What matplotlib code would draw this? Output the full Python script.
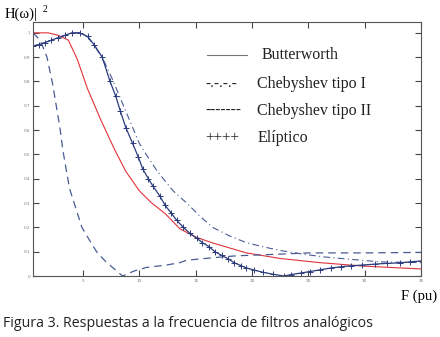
"""Magnitude response of analog low-pass filters (Butterworth, Chebyshev I/II, elliptic)."""
import matplotlib
matplotlib.use("Agg")
import matplotlib.pyplot as plt

# Butterworth
f_butter = [0.56, 1.0, 1.9, 2.8, 3.7, 4.5, 5.4, 6.5, 7.8, 8.8, 10, 11.1, 12.3, 13.6,
            15, 16.5, 19.5, 22.5, 26, 29.8, 35]
h_butter = [1.0, 1.0, 1.0, 0.99, 0.97, 0.89, 0.77, 0.65, 0.52, 0.43, 0.35, 0.30, 0.256, 0.194,
            0.16, 0.136, 0.095, 0.072, 0.055, 0.041, 0.029]

# Chebyshev tipo I
f_cheb1 = [0.56, 1.6, 2.8, 4.0, 4.7, 5.4, 6.7, 7.6, 8.5, 10.0, 10.6, 11.6, 13.0, 14.2,
           15.4, 16.5, 18.0, 19.5, 21.0, 22.5, 24.5, 26.5, 28.4, 31.4, 35]
h_cheb1 = [0.946, 0.96, 0.98, 1.0, 1.0, 0.985, 0.9, 0.81, 0.71, 0.545, 0.5, 0.43, 0.35, 0.30,
           0.245, 0.2, 0.165, 0.137, 0.12, 0.105, 0.09, 0.078, 0.07, 0.058, 0.055]

# Chebyshev tipo II
f_cheb2 = [0.56, 1.2, 1.8, 2.3, 2.95, 3.2, 3.8, 4.9, 5.6, 6.2, 7.0, 7.8, 8.5, 9.5, 10.6,
           12.4, 13.6, 14.2, 16.5, 18.6, 22.5, 25, 30, 35]
h_cheb2 = [1.0, 0.97, 0.9, 0.79, 0.61, 0.52, 0.36, 0.2, 0.145, 0.1, 0.06, 0.028, 0.0, 0.02, 0.035,
           0.045, 0.055, 0.065, 0.075, 0.083, 0.09, 0.095, 0.095, 0.097]

# Eliptico
f_ellip = [0.56, 1.1, 1.6, 2.2, 2.8, 3.4, 4.0, 4.7, 5.4, 6.0, 6.7, 7.4, 7.9, 8.3, 8.8, 9.4,
           9.9, 10.3, 10.8, 11.2, 11.8, 12.3, 12.8, 13.3, 13.9, 14.5, 15.1, 15.6, 16.2, 16.7,
           17.3, 17.9, 18.4, 19.0, 19.5, 20.2, 21.0, 21.9, 22.8, 23.5, 24.3, 25.1, 26.0, 27.0,
           27.9, 28.8, 29.8, 30.9, 32.0, 33.1, 34.0, 35]
h_ellip = [0.946, 0.95, 0.96, 0.97, 0.98, 0.99, 1.0, 1.0, 0.985, 0.95, 0.9, 0.8, 0.74, 0.68,
           0.61, 0.545, 0.49, 0.44, 0.40, 0.37, 0.33, 0.29, 0.26, 0.23, 0.2, 0.175, 0.155,
           0.137, 0.12, 0.1, 0.085, 0.07, 0.055, 0.043, 0.033, 0.024, 0.015, 0.007, 0.0, 0.006,
           0.012, 0.018, 0.025, 0.033, 0.038, 0.042, 0.045, 0.049, 0.052, 0.054, 0.058, 0.062]

x_ticks = [5, 10, 15, 20, 25, 30, 35]
y_ticks = [0, 0.1, 0.2, 0.3, 0.4, 0.5, 0.6, 0.7, 0.8, 0.9, 1]

serif = "Liberation Serif"
red = "#e0333a"
navy = "#2c3c7c"
blue = "#4a5b96"

fig = plt.figure(figsize=(4.4, 3.37), dpi=100)
ax = fig.add_axes([0.075, 0.181, 0.882, 0.754])

ax.plot(f_butter, h_butter, color=red, lw=0.8)
ax.plot(f_cheb1, h_cheb1, color=blue, lw=0.8, ls=(0, (6, 3, 1, 3)))
ax.plot(f_cheb2, h_cheb2, color=blue, lw=0.9, ls=(0, (6, 4)))
ax.plot(f_ellip, h_ellip, color=navy, lw=0.9, marker="+", ms=4, mew=0.7)

ax.set_xlim(0.56, 35)
ax.set_ylim(0, 1.045)
ax.set_xticks(x_ticks)
ax.set_yticks(y_ticks)
ax.set_xticklabels([str(t) for t in x_ticks])
ax.set_yticklabels([("%g" % t) for t in y_ticks])
ax.tick_params(direction="in", length=4, width=0.8, color="#444444",
               labelsize=3, labelcolor="#777777", top=True, right=True, pad=2)
for s in ax.spines.values():
    s.set_color("#555555")
    s.set_linewidth(0.8)

# hand-drawn style legend
ax.plot([0.448, 0.552], [0.870, 0.870], transform=ax.transAxes, color="#777777", lw=0.8)
ax.text(0.590, 0.870, "Butterworth", transform=ax.transAxes, family=serif,
        fontsize=11.5, va="center", color="#222222")
leg_rows = [("-.-.-.-", "Chebyshev tipo I", 0.756),
            ("-------", "Chebyshev tipo II", 0.650),
            ("++++", "Elíptico", 0.543)]
for sym, lab, yy in leg_rows:
    ax.text(0.443, yy, sym, transform=ax.transAxes, family=serif, fontsize=11,
            va="center", color="#222222")
    ax.text(0.578, yy, lab, transform=ax.transAxes, family=serif, fontsize=11.5,
            va="center", color="#222222")

fig.text(0.011, 0.957, "H(\u03c9)|", family=serif, fontsize=10.5, va="center")
fig.text(0.096, 0.972, "2", family=serif, fontsize=7, va="center")
fig.text(0.993, 0.122, "F (pu)", family=serif, fontsize=10.5, ha="right", va="center")
fig.text(0.007, 0.040, "Figura 3. Respuestas a la frecuencia de filtros analógicos",
         family="Open Sans", fontsize=10.2, va="center", color="#222222")

fig.savefig("out.png", dpi=100)
